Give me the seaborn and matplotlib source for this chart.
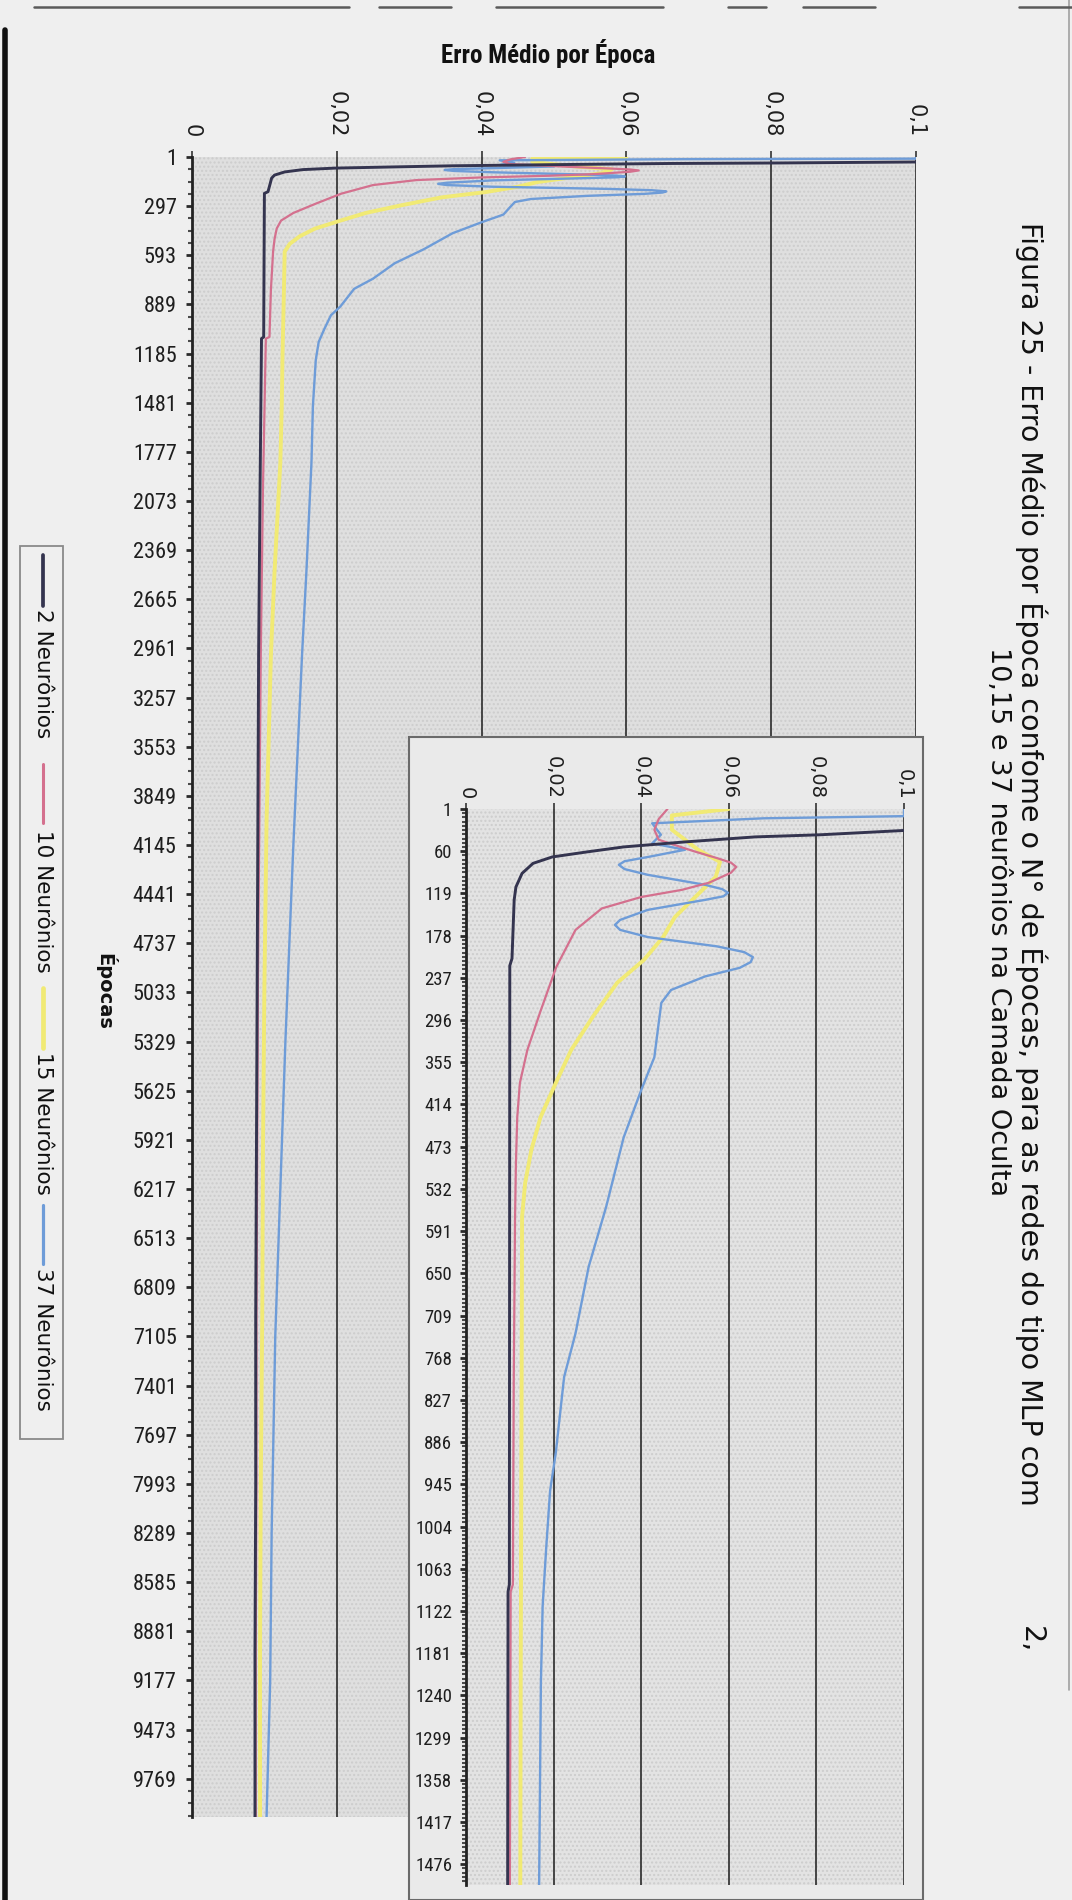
import os
import numpy as np
import pandas as pd
import matplotlib
matplotlib.use("Agg")
import matplotlib.pyplot as plt
import seaborn as sns
from matplotlib import font_manager as fm
from matplotlib.font_manager import FontProperties
from matplotlib.textpath import TextToPath
from matplotlib.patches import Rectangle
from matplotlib.lines import Line2D
from matplotlib.ticker import FixedLocator

# ---------------------------------------------------------------------------
# Mean error per epoch for MLP networks with 2, 10, 15 and 37 hidden neurons
# ---------------------------------------------------------------------------
series_names = ["2 Neurônios", "10 Neurônios", "15 Neurônios", "37 Neurônios"]

ep_2 = [1, 28, 31, 37, 40, 47, 54, 61, 68, 77, 91, 110, 128, 210, 220,
        1085, 1095, 2000, 3000, 4000, 5000, 6000, 7000, 8000, 9000, 10000]
erro_2 = [0.140, 0.105, 0.100, 0.081, 0.066, 0.050, 0.036, 0.0276, 0.0197,
          0.0153, 0.0128, 0.0114, 0.0110, 0.0105, 0.0100,
          0.0099, 0.0096, 0.0094, 0.0092, 0.0091, 0.0090, 0.0089, 0.0088,
          0.0088, 0.0087, 0.0087]

ep_10 = [1, 15, 30, 44, 60, 70, 76, 82, 90, 104, 114, 124, 140, 170, 222, 282,
         338, 384, 432, 496, 571, 800, 1085, 1095, 2000, 3000, 4000, 5000,
         6000, 7000, 8000, 9000, 10000]
erro_10 = [0.046, 0.044, 0.043, 0.044, 0.052, 0.0575, 0.0605, 0.0617, 0.0605,
           0.0555, 0.0493, 0.040, 0.031, 0.025, 0.0206, 0.0171, 0.0140,
           0.0123, 0.0117, 0.0114, 0.0112, 0.0109, 0.0107, 0.0102, 0.0098,
           0.0095, 0.0093, 0.0091, 0.0090, 0.0089, 0.0089, 0.0088, 0.0088]

ep_15 = [1, 10, 30, 44, 58, 75, 96, 132, 152, 180, 212, 244, 291, 338, 384,
         432, 478, 524, 571, 800, 1200, 1500, 1842, 2500, 3000, 4000, 5000,
         6000, 7000, 8000, 9000, 10000]
erro_15 = [0.060, 0.047, 0.047, 0.050, 0.053, 0.058, 0.057, 0.051, 0.0477,
           0.045, 0.0406, 0.0345, 0.029, 0.024, 0.0205, 0.0170, 0.0149,
           0.0135, 0.0128, 0.0127, 0.0125, 0.0124, 0.0122, 0.0114, 0.0109,
           0.0103, 0.0100, 0.0098, 0.0097, 0.0095, 0.0094, 0.0094]

ep_37 = [1, 11, 14, 21, 37, 49, 58, 68, 74, 79, 85, 93, 107, 113, 118, 123,
         128, 142, 156, 163, 170, 180, 193, 201, 208, 215, 223, 235, 254, 272,
         300, 348, 394, 460, 557, 641, 734, 795, 901, 954, 1035, 1115, 1222,
         1361, 1500, 1842, 2500, 3000, 4145, 5329, 6217, 7105, 8289, 9177,
         10000]
erro_37 = [0.100, 0.100, 0.068, 0.0425, 0.0445, 0.0425, 0.050, 0.0416, 0.0362,
           0.0349, 0.0362, 0.0415, 0.0546, 0.0585, 0.0598, 0.0588, 0.0546,
           0.0415, 0.0352, 0.0340, 0.0352, 0.0415, 0.0573, 0.0635, 0.0655,
           0.0650, 0.0625, 0.0546, 0.0468, 0.0446, 0.044, 0.043, 0.040, 0.036,
           0.032, 0.028, 0.025, 0.0224, 0.0205, 0.0192, 0.0183, 0.0175, 0.0171,
           0.0169, 0.0167, 0.0165, 0.0158, 0.0152, 0.0140, 0.0129, 0.0122,
           0.0115, 0.0110, 0.0108, 0.0103]

main_ticks = list(range(1, 10000, 296))      # 1, 297, ..., 9769
inset_ticks = list(range(1, 1500, 59))       # 1, 60, ..., 1476
x_ticks = [0, 0.02, 0.04, 0.06, 0.08, 0.1]
x_labels = ["0", "0,02", "0,04", "0,06", "0,08", "0,1"]

title = "Erro Médio por Época"
y_title = "Épocas"
caption_1 = ("Figura 25 - Erro Médio por Época confome o N° de Épocas, "
             "para as redes do tipo MLP com")
caption_1_end = "2,"
caption_2 = "10,15 e 37 neurônios na Camada Oculta"

palette = {"2 Neurônios": "#34344f", "10 Neurônios": "#d4708e",
           "15 Neurônios": "#f1ea74", "37 Neurônios": "#6e9cd8"}
widths = {"2 Neurônios": 2.1, "10 Neurônios": 1.6,
          "15 Neurônios": 2.8, "37 Neurônios": 1.7}
draw_order = ["15 Neurônios", "37 Neurônios", "10 Neurônios", "2 Neurônios"]

df = pd.concat(
    [pd.DataFrame({"epoca": e, "erro": v, "rede": n})
     for n, e, v in zip(series_names, [ep_2, ep_10, ep_15, ep_37],
                        [erro_2, erro_10, erro_15, erro_37])],
    ignore_index=True)

# ---------------------------------------------------------------------------
sns.set_theme(style="white")
PAGE = "#efefef"
INK = "#1e1e1e"
plt.rcParams["font.family"] = ["DejaVu Sans"]
plt.rcParams["hatch.linewidth"] = 1.0

# narrow typeface for the horizontal labels (falls back to DejaVu Sans)
_pref = ["liberationsansnarrow", "robotocondensed", "dejavusanscondensed",
         "notosans-condensed", "notosanscondensed", "opensans_condensed",
         "opensanscondensed"]
_skip = ("italic", "oblique", "light", "thin", "black", "semibold", "medium",
         "extra", "semicondensed", "semi")


def find_narrow(bold):
    found = []
    for f in fm.fontManager.ttflist:
        base = os.path.basename(f.fname).lower()
        if "condensed" not in base and "narrow" not in base:
            continue
        if any(k in base for k in _skip):
            continue
        if ("bold" in base) != bold:
            continue
        key = base.replace("-", "").replace("_", "")
        rank = len(_pref)
        for i, p in enumerate(_pref):
            if p.replace("-", "").replace("_", "") in key:
                rank = i
                break
        found.append((rank, f.fname))
    if found:
        found.sort()
        return FontProperties(fname=found[0][1])
    return FontProperties(family="DejaVu Sans",
                          weight="bold" if bold else "normal")


NARROW = find_narrow(False)
NARROW_BOLD = find_narrow(True)
_ttp = TextToPath()


def fitted(fp, text, target_px, max_pt):
    p = fp.copy()
    p.set_size(100)
    w, _, _ = _ttp.get_text_width_height_descent(text, p, ismath=False)
    size = target_px * 0.72 * 100 / w
    q = fp.copy()
    q.set_size(min(size, max_pt))
    return q


FP_MAIN_Y = fitted(NARROW, "0000", 44, 17)
FP_INSET_Y = fitted(NARROW, "0000", 37, 13.5)
FP_TITLE = fitted(NARROW_BOLD, title, 220, 18)

W, H = 1072.0, 1900.0


def box(l, t, r, b):
    return [l / W, 1 - b / H, (r - l) / W, (b - t) / H]


def pt(x, y):
    return x / W, 1 - y / H


fig = plt.figure(figsize=(W / 100, H / 100), dpi=100)
fig.patch.set_facecolor(PAGE)


def draw_series(a):
    for n in draw_order:
        sns.lineplot(data=df[df["rede"] == n], x="erro", y="epoca", orient="y",
                     estimator=None, sort=True, color=palette[n],
                     lw=widths[n], ax=a, legend=False, zorder=3)
    a.set_xlabel("")
    a.set_ylabel("")


def style_axes(a, ylim, yticks, minor_step, face, xlab_size, yfp, xpad, ypad):
    a.set_facecolor(face)
    a.add_patch(Rectangle((0, 0), 1, 1, transform=a.transAxes,
                          facecolor="none", edgecolor="#cdcdcd", hatch="....",
                          lw=0, zorder=0.2))
    a.set_xlim(0, 0.1)
    a.set_ylim(*ylim)
    a.set_xticks(x_ticks, labels=x_labels)
    a.set_yticks(yticks, labels=[str(t) for t in yticks])
    a.yaxis.set_minor_locator(FixedLocator(np.arange(1, ylim[0], minor_step)))
    a.xaxis.tick_top()
    a.tick_params(axis="x", which="major", top=True, bottom=False,
                  labeltop=True, labelbottom=False, direction="out",
                  length=4, width=1.2, color="#333333", pad=xpad,
                  labelsize=xlab_size, labelrotation=-90, labelcolor=INK)
    a.tick_params(axis="y", which="major", left=True, direction="out",
                  length=4, width=2, color="#2a2a2a", pad=ypad,
                  labelcolor=INK)
    a.tick_params(axis="y", which="minor", left=True, direction="out",
                  length=3, width=1.5, color="#4a4a4a")
    for lbl in a.get_yticklabels():
        lbl.set_fontproperties(yfp)
    for s in ("top", "right", "bottom"):
        a.spines[s].set_visible(False)
    a.spines["left"].set_color("#222222")
    a.spines["left"].set_linewidth(2)
    a.set_axisbelow(True)
    a.grid(axis="x", color="#2a2a2a", lw=1.2)
    a.grid(axis="y", visible=False)


# main chart: epochs 1..10000
ax = fig.add_axes(box(192, 157, 916, 1817), zorder=0)
draw_series(ax)
style_axes(ax, (10000, 1), main_ticks, 74, "#dfdfdf", 15, FP_MAIN_Y, 10, 7)

# inset chart area (light panel behind the zoomed chart)
fig.add_artist(Rectangle(pt(409, 1900), (923 - 409) / W, (1900 - 737) / H,
                         transform=fig.transFigure, facecolor="#eaeaea",
                         edgecolor="#6a6a6a", lw=1.5, zorder=1))

# zoomed chart: first 1500 epochs
axin = fig.add_axes(box(466, 809, 904, 1885), zorder=2)
draw_series(axin)
style_axes(axin, (1505, 1), inset_ticks, 5.9, "#e3e3e3", 14, FP_INSET_Y, 3, 6)

# title and axis title
fig.text(*pt(548, 53), title, ha="center", va="center",
         fontproperties=FP_TITLE, color="#111111")
fig.text(*pt(105, 991), y_title, rotation=-90, ha="center", va="center",
         fontsize=14, fontweight="bold", color="#111111")

# vertical legend on the left
fig.add_artist(Rectangle(pt(20, 1439), 43 / W, (1439 - 546) / H,
                         transform=fig.transFigure, facecolor="none",
                         edgecolor="#8a8a8a", lw=1.3, zorder=3))
legend_rows = [(555, 606, 609), (764, 823, 830), (988, 1048, 1052),
               (1205, 1264, 1268)]
for n, (l0, l1, t0) in zip(series_names, legend_rows):
    fig.add_artist(Line2D([43 / W, 43 / W], [1 - l0 / H, 1 - l1 / H],
                          transform=fig.transFigure, color=palette[n],
                          lw=widths[n] + 0.6, zorder=4))
    fig.text(*pt(43, t0), n, rotation=-90, ha="center", va="top",
             fontsize=15.5, color="#111111", zorder=4)

# figure caption, rotated along the right edge
fig.text(*pt(1031, 222), caption_1, rotation=-90, ha="center", va="top",
         fontsize=20.5, color="#111111")
fig.text(*pt(1031, 1640), caption_1_end, rotation=-90, ha="center",
         va="center", fontsize=20.5, color="#111111")
fig.text(*pt(998, 647), caption_2, rotation=-90, ha="center", va="top",
         fontsize=19.5, color="#111111")

# page frame lines
fig.add_artist(Line2D([5 / W, 5 / W], [1 - 30 / H, 0], transform=fig.transFigure,
                      color="#111111", lw=4, zorder=5))
fig.add_artist(Line2D([1069 / W, 1069 / W], [1, 1 - 1690 / H],
                      transform=fig.transFigure, color="#a0a0a0", lw=1.2,
                      zorder=5))
top_segments = [(34, 349), (379, 451), (496, 663), (728, 766), (803, 875),
                (1019, 1072)]
for x0, x1 in top_segments:
    fig.add_artist(Line2D([x0 / W, x1 / W], [1 - 7 / H, 1 - 7 / H],
                          transform=fig.transFigure, color="#5a5a5a", lw=1.8,
                          zorder=5))

fig.savefig("out.png", dpi=100, facecolor=PAGE)
